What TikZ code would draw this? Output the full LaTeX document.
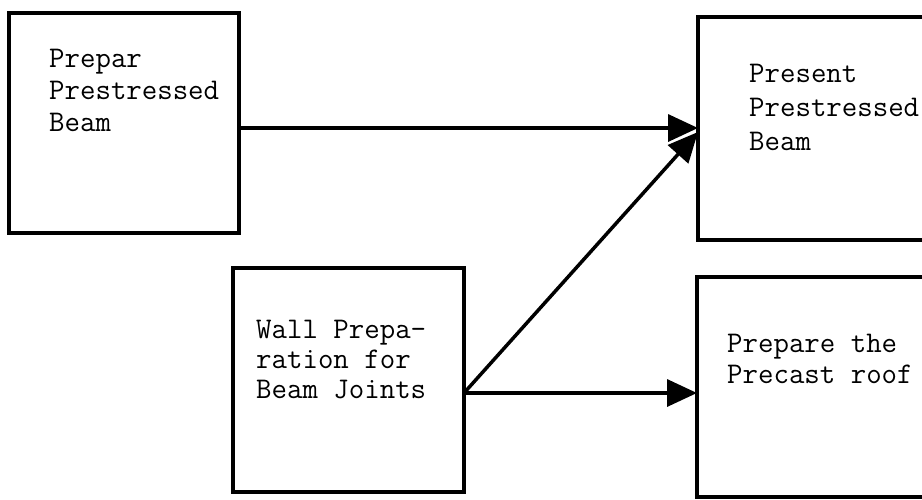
\documentclass[tikz,border=0pt]{standalone}
\usetikzlibrary{arrows.meta}
\begin{document}
\begin{tikzpicture}[x=1pt,y=-1pt,
  box/.style={draw=black, line width=4pt, rectangle, inner sep=0pt, outer sep=0pt},
  lbl/.style={anchor=north west, inner sep=0pt, align=left, text=black},
  conn/.style={draw=black, line width=3.5pt, -{Triangle[length=30pt,width=27pt]}}]
\useasboundingbox (0,0) rectangle (922,499);
% boxes
\node[box, minimum width=230pt, minimum height=220pt] (A) at (124,123) {};
\node[box, minimum width=237pt, minimum height=223pt] (B) at (816.5,128.5) {};
\node[box, minimum width=231pt, minimum height=224pt] (C) at (348.5,380) {};
\node[box, minimum width=238pt, minimum height=220pt] (D) at (816,387) {};
% labels
\node[lbl, font=\fontsize{30}{32}\selectfont\ttfamily] (tA) at (49,44.6)
  {\strut Prepar\\Prestressed\\Beam};
\node[lbl, font=\fontsize{30}{34}\selectfont\ttfamily] (tB) at (749,58.2)
  {\strut Present\\Prestressed\\Beam};
\node[lbl, font=\fontsize{30}{30}\selectfont\ttfamily] (tC) at (256,317)
  {\strut Wall Prepa-\\ration for\\Beam Joints};
\node[lbl, font=\fontsize{30}{31}\selectfont\ttfamily] (tD) at (727,330.3)
  {\strut Prepare the\\Precast roof};
% connectors
\draw[conn] ([yshift=-5pt]A.east) -- ([yshift=-5pt]A.east -| B.west);
\draw[conn] ([yshift=-13pt]C.east) -- ([yshift=-3.5pt]B.west);
\draw[conn] ([yshift=-13pt]C.east) -- ([yshift=-13pt]C.east -| D.west);
\end{tikzpicture}
\end{document}
